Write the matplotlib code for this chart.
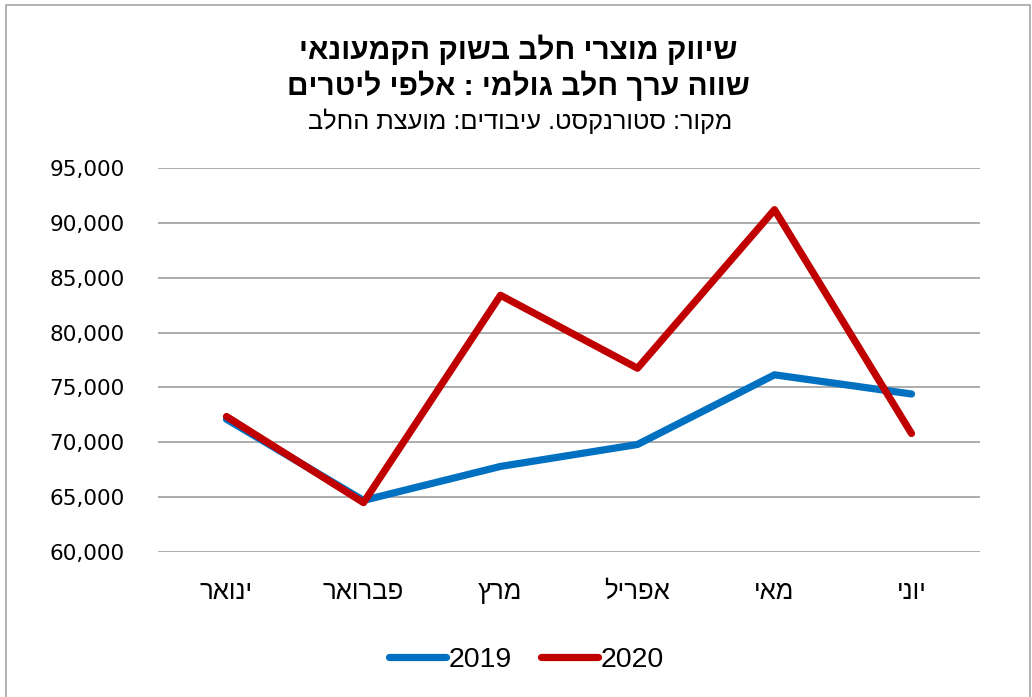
import matplotlib
matplotlib.use("Agg")
from matplotlib import pyplot as plt
from matplotlib.patches import Rectangle
from matplotlib.ticker import FuncFormatter

# no bidi in matplotlib -> hebrew strings are reversed for display
def heb(s):
    return s[::-1]

months = ['ינואר', 'פברואר', 'מרץ', 'אפריל', 'מאי', 'יוני']
years = ['2019', '2020']
sales_2019 = [72100, 64700, 67800, 69800, 76150, 74400]
sales_2020 = [72350, 64500, 83400, 76750, 91200, 70800]
colors = ['#0070C0', '#C00000']

title1 = 'שיווק מוצרי חלב בשוק הקמעונאי'
title2 = 'שווה ערך חלב גולמי : אלפי ליטרים'
subtitle = 'מקור: סטורנקסט. עיבודים: מועצת החלב'

W, H = 1032, 697
fig = plt.figure(figsize=(W / 100, H / 100), dpi=100)
ax = fig.add_axes([158 / W, 1 - 552 / H, (980 - 158) / W, (552 - 168) / H])

x = range(len(months))
for vals, yr, c in zip([sales_2019, sales_2020], years, colors):
    ax.plot(x, vals, color=c, lw=5.2, solid_capstyle='round',
            solid_joinstyle='round', label=yr)

ax.set_xlim(-0.5, len(months) - 0.5)
ax.set_ylim(60000, 95000)
ax.set_yticks(range(60000, 95001, 5000))
ax.yaxis.set_major_formatter(FuncFormatter(lambda v, p: f'{int(v):,}'))
ax.set_xticks(list(x))
ax.set_xticklabels([heb(m) for m in months], family='Liberation Sans', fontsize=18.5)
ax.tick_params(axis='y', labelsize=15.5, length=0, pad=24)
ax.tick_params(axis='x', length=0, pad=20)
for lab in ax.get_yticklabels():
    lab.set_family('DejaVu Sans')
ax.grid(axis='y', color='#A6A6A6', lw=1.3)
ax.set_axisbelow(True)
for s in ax.spines.values():
    s.set_visible(False)

fig.text(0.502, 1 - 50 / H, heb(title1), ha='center', va='center',
         family='Liberation Sans', fontsize=21.5, fontweight='bold')
fig.text(0.502, 1 - 86 / H, heb(title2), ha='center', va='center',
         family='Liberation Sans', fontsize=21.5, fontweight='bold')
fig.text(0.504, 1 - 121 / H, heb(subtitle), ha='center', va='center',
         family='Liberation Sans', fontsize=18.3)

leg = fig.legend(loc='center', bbox_to_anchor=(0.51, 1 - 660 / H), ncol=2,
                 frameon=False, handlelength=2.0, handletextpad=0.1,
                 columnspacing=1.0,
                 prop={'family': 'Liberation Sans', 'size': 20.5})

fig.patches.append(Rectangle((6 / W, -0.01), (1024 / W), 1 - 5 / H + 0.01,
                             transform=fig.transFigure, fill=False,
                             edgecolor='#A6A6A6', lw=1.2))

fig.savefig('out.png', dpi=100)
